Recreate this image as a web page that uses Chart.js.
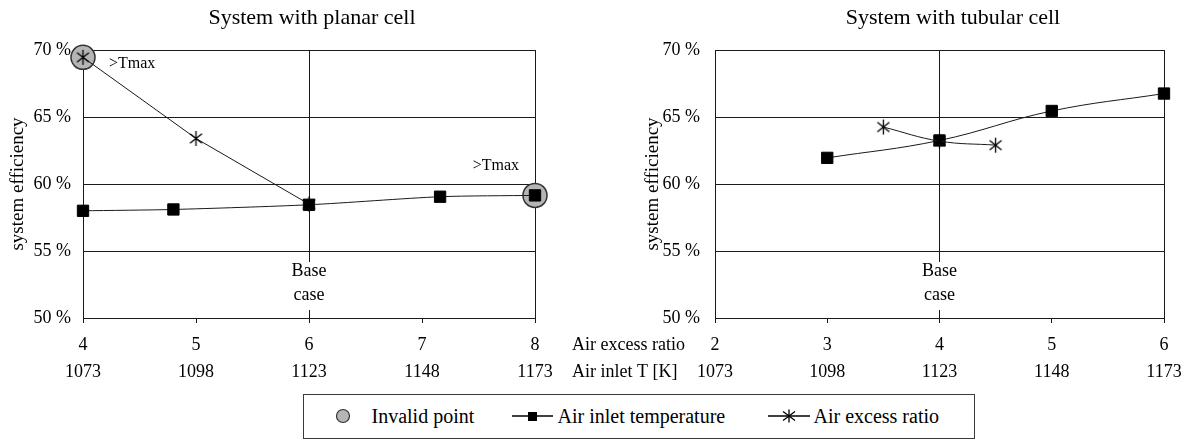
<!DOCTYPE html>
<html>
<head>
<meta charset="utf-8">
<script src="https://cdn.jsdelivr.net/npm/chart.js@4.4.1/dist/chart.umd.min.js"></script>
<style>
  body { margin: 0; background: #fff; width: 1185px; height: 441px; position: relative; overflow: hidden;
         font-family: "Liberation Serif", "Times New Roman", serif; }
  #planar { position: absolute; left: 0; top: 0; }
  #tubular { position: absolute; left: 565px; top: 0; }
  #legend { position: absolute; left: 303px; top: 394px; width: 672px; height: 45px; box-sizing: border-box;
            border: 1.5px solid #3a3a3a; }
  #legend .sym { position: absolute; top: 0; height: 42px; display: flex; align-items: center; }
  #legend .txt { position: absolute; top: 0; height: 42px; line-height: 42px; font-size: 20px; color: #000; white-space: nowrap; }
</style>
</head>
<body>
<canvas id="planar" width="565" height="392"></canvas>
<canvas id="tubular" width="620" height="392"></canvas>
<div id="legend"></div>
<script>
// efficiency axis
const effTicks = [50, 55, 60, 65, 70];
const tempTicks = [1073, 1098, 1123, 1148, 1173];
const seriesNames = ["Invalid point", "Air inlet temperature", "Air excess ratio"];

// planar cell
const planarExcessTicks = [4, 5, 6, 7, 8];
const planarExcess = [4, 5, 6];
const planarExcessEff = [69.45, 63.4, 58.5];
const planarTemp = [1073, 1093, 1123, 1152, 1173];
const planarTempEff = [58.0, 58.1, 58.45, 59.05, 59.15];
const planarInvalidExcess = [0];   // index into planarExcess
const planarInvalidTemp = [4];     // index into planarTemp
const planarBase = 6;

// tubular cell
const tubularExcessTicks = [2, 3, 4, 5, 6];
const tubularExcess = [3.5, 4, 4.5];
const tubularExcessEff = [64.25, 63.2, 62.9];
const tubularTemp = [1098, 1123, 1148, 1173];
const tubularTempEff = [61.95, 63.25, 65.45, 66.75];
const tubularBase = 4;

const SERIF = '"Liberation Serif", "Times New Roman", serif';
const INK = "#1a1a1a";
const GREY = "#b5b5b5";

Chart.defaults.font.family = SERIF;
Chart.defaults.color = "#000";
Chart.defaults.animation = false;

function asterisk(size, lw) {
  const c = document.createElement("canvas");
  c.width = c.height = size;
  const g = c.getContext("2d");
  const m = size / 2, r = size / 2 - 1;
  g.strokeStyle = "#000";
  g.lineWidth = lw;
  g.beginPath();
  g.moveTo(m, m - r); g.lineTo(m, m + r);
  const d = r * 0.8;
  g.moveTo(m - d, m - d * 0.8); g.lineTo(m + d, m + d * 0.8);
  g.moveTo(m - d, m + d * 0.8); g.lineTo(m + d, m - d * 0.8);
  g.stroke();
  return c;
}
const starMark = asterisk(17, 1.3);

const pts = (xs, ys) => xs.map((x, i) => ({ x, y: ys[i] }));

const paneDecor = {
  id: "paneDecor",
  beforeDatasetsDraw(chart, args, o) {
    const { ctx, chartArea: a, scales } = chart;
    const bx = scales.x.getPixelForValue(o.base);
    ctx.save();
    ctx.fillStyle = "#fff";
    ctx.fillRect(bx - 22, a.bottom - 56, 44, 48);
    ctx.fillStyle = "#000";
    ctx.font = "18px " + SERIF;
    ctx.textAlign = "center";
    ctx.textBaseline = "middle";
    ctx.fillText("Base", bx, a.bottom - 47);
    ctx.fillText("case", bx, a.bottom - 23);
    ctx.restore();
  },
  afterDraw(chart, args, o) {
    const { ctx, scales } = chart;
    ctx.save();
    ctx.fillStyle = "#000";
    ctx.textBaseline = "middle";
    ctx.font = "22px " + SERIF;
    ctx.textAlign = "center";
    ctx.fillText(o.title, o.titleX, 18);

    ctx.font = "16px " + SERIF;
    (o.notes || []).forEach(n => {
      const p = chart.getDatasetMeta(n.ds).data[0];
      ctx.textAlign = n.align;
      ctx.fillText(">Tmax", p.x + n.dx, p.y + n.dy);
    });

    if (o.rowLabels) {
      ctx.font = "18px " + SERIF;
      ctx.textAlign = "left";
      ctx.fillText("Air excess ratio", o.rowX, scales.x.top + 27);
      ctx.fillText("Air inlet T [K]", o.rowX, scales.xT.top + 18);
    }
    ctx.restore();
  }
};

// keep the plot edges fixed: no extra room for overhanging end labels
const noEdgePad = h => s => { s.height = h; s.paddingLeft = 0; s.paddingRight = 0; };

function buildPane(id, p) {
  const datasets = [
    {
      label: seriesNames[2], data: pts(p.excess, p.excessEff), xAxisID: "x",
      borderColor: INK, borderWidth: 1, tension: p.excessTension,
      pointStyle: starMark, pointRadius: 8, order: 0, clip: false
    },
    {
      label: seriesNames[1], data: pts(p.temp, p.tempEff), xAxisID: "xT",
      borderColor: INK, borderWidth: 1, tension: p.tempTension,
      pointStyle: "rect", pointRadius: 8, pointBackgroundColor: "#000",
      pointBorderColor: "#000", pointBorderWidth: 1, order: 1, clip: false
    }
  ];
  const notes = [];
  (p.invalidExcess || []).forEach(i => {
    datasets.push({
      label: seriesNames[0], data: [{ x: p.excess[i], y: p.excessEff[i] }], xAxisID: "x",
      showLine: false, pointRadius: 12, pointBackgroundColor: GREY, pointBorderColor: "#333",
      pointBorderWidth: 1.5, order: 5, clip: false
    });
    notes.push({ ds: datasets.length - 1, dx: 26, dy: 6, align: "left" });
  });
  (p.invalidTemp || []).forEach(i => {
    datasets.push({
      label: seriesNames[0], data: [{ x: p.temp[i], y: p.tempEff[i] }], xAxisID: "xT",
      showLine: false, pointRadius: 12, pointBackgroundColor: GREY, pointBorderColor: "#333",
      pointBorderWidth: 1.5, order: 5, clip: false
    });
    notes.push({ ds: datasets.length - 1, dx: -16, dy: -30, align: "right" });
  });

  const xMin = p.excessTicks[0], xMax = p.excessTicks[p.excessTicks.length - 1];
  const tickFont = { size: 18 };

  return new Chart(document.getElementById(id), {
    type: "line",
    data: { datasets },
    plugins: [paneDecor],
    options: {
      responsive: false,
      layout: { padding: { top: 50, right: p.padRight, bottom: 6, left: 0 } },
      plugins: {
        legend: { display: false },
        tooltip: { enabled: false },
        paneDecor: { title: p.title, titleX: p.titleX, base: p.base, notes, rowLabels: p.rowLabels, rowX: p.rowX }
      },
      scales: {
        x: {
          type: "linear", position: "bottom", min: xMin, max: xMax, weight: 0,
          afterBuildTicks: s => { s.ticks = p.excessTicks.map(v => ({ value: v })); },
          afterFit: noEdgePad(36),
          grid: {
            color: c => (c.tick && (c.tick.value === p.base || c.tick.value === xMax)) ? INK : "rgba(0,0,0,0)",
            tickColor: INK, tickLength: 5, lineWidth: 1
          },
          border: { color: INK, width: 1 },
          ticks: { font: tickFont, padding: 11, maxRotation: 0, autoSkip: false, callback: v => String(v) }
        },
        xT: {
          type: "linear", position: "bottom", min: tempTicks[0], max: tempTicks[tempTicks.length - 1], weight: 1,
          afterBuildTicks: s => { s.ticks = tempTicks.map(v => ({ value: v })); },
          afterFit: noEdgePad(32),
          grid: { display: false, drawTicks: false },
          border: { display: false },
          ticks: { font: tickFont, padding: 7, maxRotation: 0, autoSkip: false, callback: v => String(v) }
        },
        y: {
          min: effTicks[0], max: effTicks[effTicks.length - 1],
          afterBuildTicks: s => { s.ticks = effTicks.map(v => ({ value: v })); },
          afterFit: s => { s.width = p.yWidth; s.paddingTop = 0; s.paddingBottom = 0; },
          grid: { color: INK, lineWidth: 1, drawTicks: false },
          border: { color: INK, width: 1 },
          ticks: { font: tickFont, padding: p.yPad, callback: v => v + " %" },
          title: { display: true, text: "system efficiency", font: { size: 19 }, padding: { top: p.yTitlePad, bottom: 0 } }
        }
      }
    }
  });
}

buildPane("planar", {
  title: "System with planar cell", titleX: 312,
  excessTicks: planarExcessTicks, excess: planarExcess, excessEff: planarExcessEff, excessTension: 0,
  temp: planarTemp, tempEff: planarTempEff, tempTension: 0.25,
  invalidExcess: planarInvalidExcess, invalidTemp: planarInvalidTemp,
  base: planarBase, padRight: 30, yWidth: 83, yPad: 12, yTitlePad: 7
});

buildPane("tubular", {
  title: "System with tubular cell", titleX: 388,
  excessTicks: tubularExcessTicks, excess: tubularExcess, excessEff: tubularExcessEff, excessTension: 0.4,
  temp: tubularTemp, tempEff: tubularTempEff, tempTension: 0.4,
  base: tubularBase, padRight: 21, yWidth: 150, yPad: 15, yTitlePad: 77,
  rowLabels: true, rowX: 7
});

// shared legend strip
const legend = document.getElementById("legend");
const symbols = [
  '<svg width="16" height="16"><circle cx="8" cy="8" r="6.5" fill="' + GREY + '" stroke="#333" stroke-width="1.2"/></svg>',
  '<svg width="41" height="16"><line x1="0" y1="8" x2="41" y2="8" stroke="#000" stroke-width="1.3"/><rect x="16" y="4" width="9" height="9" fill="#000"/></svg>',
  '<svg width="42" height="16"><line x1="0" y1="8" x2="42" y2="8" stroke="#000" stroke-width="1.3"/>' +
    '<path d="M21 1.5V14.5M15 3.5L27 12.5M15 12.5L27 3.5" stroke="#000" stroke-width="1.3" fill="none"/></svg>'
];
const symLeft = [30.5, 207.5, 463.5];
const txtLeft = [67.5, 253.5, 509.5];
seriesNames.forEach((name, i) => {
  const s = document.createElement("span");
  s.className = "sym"; s.style.left = symLeft[i] + "px"; s.innerHTML = symbols[i];
  const t = document.createElement("span");
  t.className = "txt"; t.style.left = txtLeft[i] + "px"; t.textContent = name;
  legend.appendChild(s); legend.appendChild(t);
});
</script>
</body>
</html>
